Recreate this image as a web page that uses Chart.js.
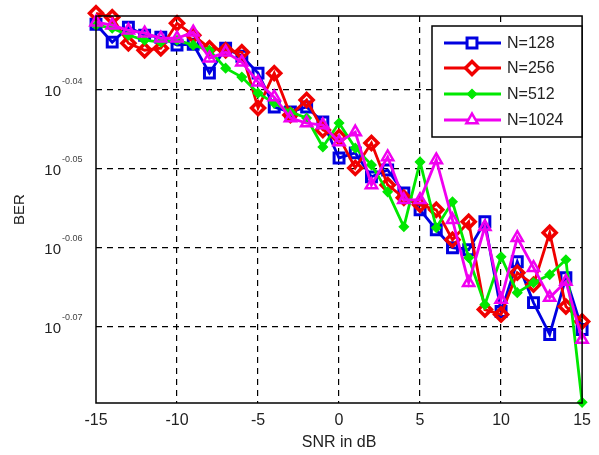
<!DOCTYPE html>
<html>
<head>
<meta charset="utf-8">
<script src="https://cdn.jsdelivr.net/npm/chart.js@4.4.1/dist/chart.umd.min.js"></script>
<style>
  html, body { margin: 0; padding: 0; background: #fff; }
  #wrap { width: 599px; height: 455px; }
</style>
</head>
<body>
<div id="wrap"><canvas id="chart1"></canvas></div>
<script>
// SNR (dB) on x, log10(BER) on y
const snr = [-15, -14, -13, -12, -11, -10, -9, -8, -7, -6, -5, -4, -3, -2, -1, 0,
  1, 2, 3, 4, 5, 6, 7, 8, 9, 10, 11, 12, 13, 14, 15];

const ber128 = [-0.03165, -0.03392, -0.03203, -0.03304, -0.03329, -0.03430, -0.03418, -0.03785,
  -0.03468, -0.03570, -0.03785, -0.04215, -0.04278, -0.04215, -0.04405, -0.04861,
  -0.04797, -0.05101, -0.05013, -0.05304, -0.05519, -0.05772, -0.06000, -0.06025,
  -0.05671, -0.06810, -0.06177, -0.06696, -0.07101, -0.06380, -0.07038];

const ber256 = [-0.03025, -0.03076, -0.03405, -0.03494, -0.03468, -0.03152, -0.03304, -0.03468,
  -0.03494, -0.03519, -0.04228, -0.03785, -0.04316, -0.04127, -0.04506, -0.04595,
  -0.04987, -0.04671, -0.05203, -0.05367, -0.05456, -0.05519, -0.05899, -0.05671,
  -0.06785, -0.06848, -0.06316, -0.06468, -0.05810, -0.06747, -0.06937];

const ber512 = [-0.03177, -0.03215, -0.03304, -0.03367, -0.03392, -0.03367, -0.03430, -0.03494,
  -0.03722, -0.03835, -0.04038, -0.04165, -0.04278, -0.04354, -0.04722, -0.04418,
  -0.04734, -0.04949, -0.05291, -0.05734, -0.04911, -0.05747, -0.05418, -0.06127,
  -0.06722, -0.06114, -0.06570, -0.06443, -0.06342, -0.06152, -0.07962];

const ber1024 = [-0.03139, -0.03177, -0.03241, -0.03278, -0.03342, -0.03342, -0.03266, -0.03595,
  -0.03519, -0.03646, -0.03899, -0.04089, -0.04354, -0.04418, -0.04443, -0.04658,
  -0.04532, -0.05203, -0.04848, -0.05392, -0.05392, -0.04886, -0.05646, -0.06443,
  -0.05734, -0.06658, -0.05873, -0.06253, -0.06633, -0.06430, -0.07165];

const xTicks = [-15, -10, -5, 0, 5, 10, 15];
const yTicks = [-0.07, -0.06, -0.05, -0.04];
const yTickLabels = ['-0.07', '-0.06', '-0.05', '-0.04'];

const seriesNames = ['N=128', 'N=256', 'N=512', 'N=1024'];
const seriesColors = ['#0000e0', '#f00000', '#00e800', '#f000f0'];
const seriesStyles = ['rect', 'rectRot', 'rectRot', 'triangle'];

const FONT = 'Liberation Sans, Arial, sans-serif';

function pts(vals) {
  return snr.map((x, i) => ({ x: x, y: vals[i] }));
}

const markerCfg = [
  { r: 7, fill: 'rgba(0,0,0,0)', bw: 3 },
  { r: 6.5, fill: 'rgba(0,0,0,0)', bw: 3.5 },
  { r: 4.5, fill: '#00e800', bw: 1.5 },
  { r: 6.5, fill: 'rgba(0,0,0,0)', bw: 2.5 }
];

const datasets = [ber128, ber256, ber512, ber1024].map((vals, i) => ({
  label: seriesNames[i],
  data: pts(vals),
  borderColor: seriesColors[i],
  backgroundColor: seriesColors[i],
  borderWidth: 2.8,
  pointStyle: seriesStyles[i],
  pointRadius: markerCfg[i].r,
  pointBorderWidth: markerCfg[i].bw,
  pointBackgroundColor: markerCfg[i].fill,
  pointBorderColor: seriesColors[i],
  tension: 0,
  clip: false,
  order: 4 - i
}));

// box, y labels with exponents, legend
const decor = {
  id: 'decor',
  afterDraw(chart) {
    const ctx = chart.ctx;
    const a = chart.chartArea;
    const ys = chart.scales.y;
    ctx.save();
    ctx.strokeStyle = '#000';
    ctx.lineWidth = 1.5;
    ctx.strokeRect(a.left, a.top, a.right - a.left, a.bottom - a.top);

    yTicks.forEach((v, i) => {
      const py = ys.getPixelForValue(v);
      ctx.fillStyle = '#222';
      ctx.font = '15px ' + FONT;
      ctx.textAlign = 'right';
      ctx.textBaseline = 'middle';
      ctx.fillText('10', 61, py + 2);
      ctx.fillStyle = '#444';
      ctx.font = '9px ' + FONT;
      ctx.textAlign = 'left';
      ctx.fillText(yTickLabels[i], 62, py - 9);
    });

    // legend
    const lx = 432, ly = 26, lw = 150, lh = 111;
    ctx.fillStyle = '#fff';
    ctx.fillRect(lx, ly, lw, lh);
    ctx.lineWidth = 1.5;
    ctx.strokeStyle = '#000';
    ctx.strokeRect(lx, ly, lw, lh);
    const rows = [43, 68, 94, 120];
    rows.forEach((ry, i) => {
      ctx.strokeStyle = seriesColors[i];
      ctx.lineWidth = 2.8;
      ctx.beginPath();
      ctx.moveTo(444, ry);
      ctx.lineTo(501, ry);
      ctx.stroke();
      ctx.fillStyle = markerCfg[i].fill === 'rgba(0,0,0,0)' ? '#fff' : markerCfg[i].fill;
      ctx.lineWidth = markerCfg[i].bw;
      Chart.helpers.drawPoint(ctx, {
        pointStyle: seriesStyles[i],
        radius: markerCfg[i].r,
        rotation: 0,
        borderWidth: markerCfg[i].bw
      }, 472, ry);
      ctx.fillStyle = '#222';
      ctx.font = '16px ' + FONT;
      ctx.textAlign = 'left';
      ctx.textBaseline = 'middle';
      ctx.fillText(seriesNames[i], 507, ry + 1);
    });
    ctx.restore();
  }
};

const gridDash = {
  display: true,
  color: '#000',
  lineWidth: 1.2,
  drawTicks: false
};

new Chart(document.getElementById('chart1'), {
  type: 'line',
  data: { datasets: datasets },
  options: {
    responsive: true,
    maintainAspectRatio: false,
    animation: false,
    layout: { padding: { top: 16, right: 11, left: 0, bottom: 0 } },
    plugins: {
      legend: { display: false },
      tooltip: { enabled: false }
    },
    scales: {
      x: {
        type: 'linear',
        min: -15,
        max: 15,
        afterBuildTicks: (s) => { s.ticks = xTicks.map(v => ({ value: v })); },
        afterFit: (s) => { s.height = 52; },
        grid: Object.assign({}, gridDash, {
          color: (c) => (c.tick && (c.tick.value === -15 || c.tick.value === 15)) ? 'rgba(0,0,0,0)' : '#000'
        }),
        border: { display: false, dash: [6, 5] },
        ticks: {
          color: '#222',
          font: { family: FONT, size: 16 },
          padding: 8,
          maxRotation: 0
        },
        title: {
          display: true,
          text: 'SNR in dB',
          color: '#222',
          font: { family: FONT, size: 16 },
          padding: { top: 0, bottom: 3 }
        }
      },
      y: {
        type: 'linear',
        min: -0.0797,
        max: -0.0306,
        afterBuildTicks: (s) => { s.ticks = yTicks.map(v => ({ value: v })); },
        afterFit: (s) => { s.width = 96; },
        grid: gridDash,
        border: { display: false, dash: [6, 5] },
        ticks: { display: false },
        title: {
          display: true,
          text: 'BER',
          color: '#222',
          font: { family: FONT, size: 15 },
          padding: { top: 11, bottom: 0 }
        }
      }
    }
  },
  plugins: [decor]
});
</script>
</body>
</html>
